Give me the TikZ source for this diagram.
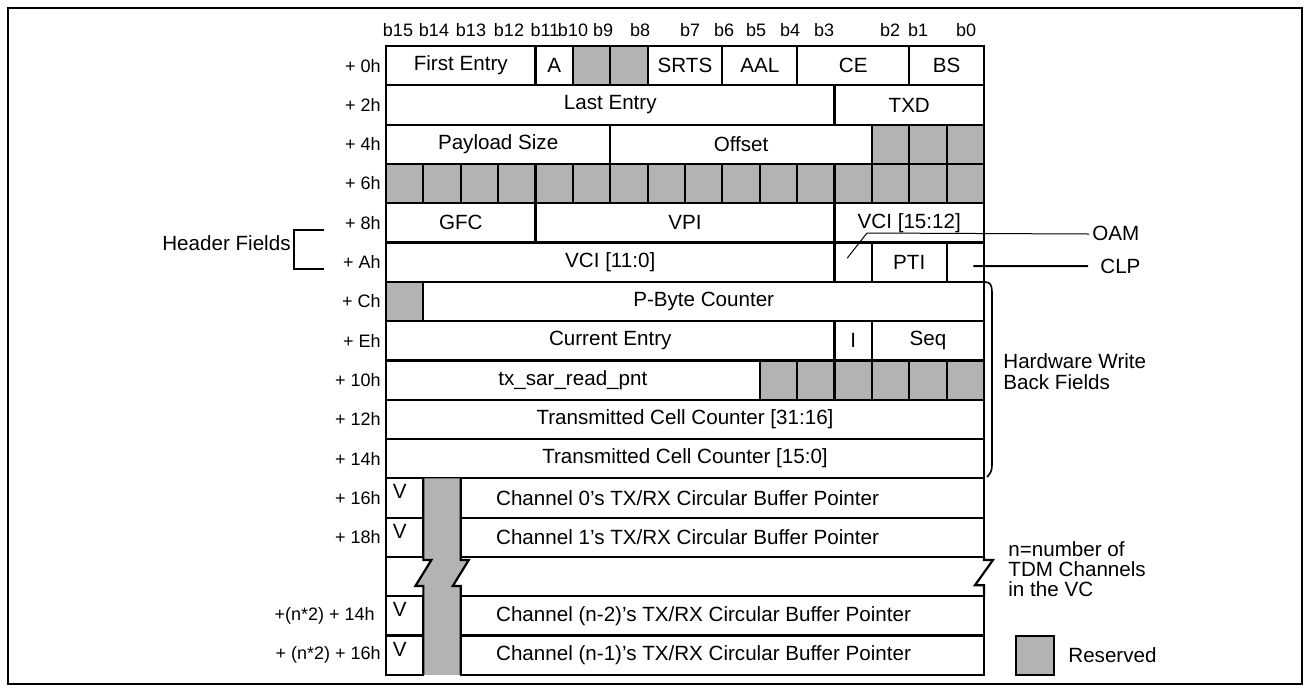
\documentclass[tikz,border=0pt]{standalone}
\usepackage{fontspec}
\setmainfont{Liberation Sans}
\usetikzlibrary{calc,positioning}
\definecolor{rsvgray}{RGB}{179,179,179}
\newcommand{\regfld}[6][]{%
  \node[field,#1,minimum width={(#3-#4+1)*18.6875pt},anchor=north west]
    (#2) at ({386+(15-#3)*37.375},{46+#5*39.3}) {#6};}
\newcommand{\vbit}{\raisebox{-1pt}{\smash{V}}\kern5pt}
\tikzset{
  field/.style={draw,line width=1.1pt,inner sep=0pt,outer sep=0pt,
    minimum height=19.65pt,font=\fontsize{10.3}{12.4}\selectfont},
  rsv/.style={fill=rsvgray},
  offs/.style={anchor=east,inner sep=0pt,font=\fontsize{9}{11}\selectfont},
  bitlbl/.style={inner sep=0pt,font=\fontsize{9}{11}\selectfont},
  chtxt/.style={anchor=west,inner sep=0pt,font=\fontsize{10.3}{12.4}\selectfont},
  note/.style={inner sep=0pt,align=left,font=\fontsize{10.3}{10.5}\selectfont},
}

\begin{document}
\begin{tikzpicture}[x=0.5pt,y=-0.5pt]
\useasboundingbox (0,0) rectangle (1310,692);
\draw[line width=1pt] (8,8) rectangle (1302,684);

% bit numbers
\foreach \b/\x in {15/398,14/434,13/471,12/509,11/545,10/573,9/603,8/640,
  7/690,6/724,5/756,4/790,3/824,2/890,1/918,0/966}
  {\node[bitlbl] (b\b) at (\x,30) {b\b};}

% offsets
\foreach \r/\t in {0/+ 0h,1/+ 2h,2/+ 4h,3/+ 6h,4/+ 8h,5/+ Ah,6/+ Ch,7/+ Eh,
  8/+ 10h,9/+ 12h,10/+ 14h,11/+ 16h,12/+ 18h}
  {\node[offs] (o\r) at (381,{65.65+\r*39.3}) {\t};}
\node[offs] (o14) at (375,615.85) {+(n*2) + 14h};
\node[offs] (o15) at (381,655.15) {+ (n*2) + 16h};

% + 0h
\regfld{fe}{15}{12}{0}{First Entry}
\regfld{a}{11}{11}{0}{A}
\regfld[rsv]{r0a}{10}{10}{0}{}
\regfld[rsv]{r0b}{9}{9}{0}{}
\regfld{srts}{8}{7}{0}{SRTS}
\regfld{aal}{6}{5}{0}{AAL}
\regfld{ce}{4}{2}{0}{CE}
\regfld{bs}{1}{0}{0}{\raisebox{-2pt}{BS}}
% + 2h
\regfld{le}{15}{4}{1}{Last Entry}
\regfld{txd}{3}{0}{1}{TXD}
% + 4h
\regfld{ps}{15}{10}{2}{Payload Size}
\regfld{ofs}{9}{3}{2}{Offset}
\foreach \k in {2,1,0} {\regfld[rsv]{r4c\k}{\k}{\k}{2}{}}
% + 6h
\foreach \k in {0,...,15} {\regfld[rsv]{r6c\k}{\k}{\k}{3}{}}
% + 8h
\regfld{gfc}{15}{12}{4}{GFC}
\regfld{vpi}{11}{4}{4}{VPI}
\regfld{vcih}{3}{0}{4}{VCI [15:12]}
% + Ah
\regfld{vcil}{15}{4}{5}{VCI [11:0]}
\regfld{oam}{3}{3}{5}{}
\regfld{pti}{2}{1}{5}{PTI}
\regfld{clp}{0}{0}{5}{}
% + Ch
\regfld[rsv]{rc}{15}{15}{6}{}
\regfld{pbc}{14}{0}{6}{P-Byte Counter}
% + Eh
\regfld{cur}{15}{4}{7}{Current Entry}
\regfld{ibit}{3}{3}{7}{I}
\regfld{seq}{2}{0}{7}{Seq}
% + 10h
\regfld{rdp}{15}{6}{8}{tx\_sar\_read\_pnt}
\foreach \k in {5,...,0} {\regfld[rsv]{r10c\k}{\k}{\k}{8}{}}
% + 12h, + 14h
\regfld{tcch}{15}{0}{9}{Transmitted Cell Counter [31:16]}
\regfld{tccl}{15}{0}{10}{Transmitted Cell Counter [15:0]}

% reserved column of the channel pointers, with break
\fill[rsvgray] (423.375,478.3) -- (423.375,560) -- (431.375,560) -- (415.375,586)
  -- (423.375,586) -- (423.375,674.8) -- (460.75,674.8) -- (460.75,586)
  -- (452.75,586) -- (468.75,560) -- (460.75,560) -- (460.75,478.3) -- cycle;
\draw[line width=1.1pt] (423.375,478.3) -- (423.375,560) -- (431.375,560)
  -- (415.375,586) -- (423.375,586) -- (423.375,674.8);
\draw[line width=1.1pt] (460.75,478.3) -- (460.75,560) -- (468.75,560)
  -- (452.75,586) -- (460.75,586) -- (460.75,674.8);

% channel pointers
\regfld{v16}{15}{15}{11}{\vbit}
\regfld{ch0}{13}{0}{11}{}
\regfld{v18}{15}{15}{12}{\vbit}
\regfld{ch1}{13}{0}{12}{}
\regfld{vn2}{15}{15}{14}{\vbit}
\regfld{chn2}{13}{0}{14}{}
\regfld{vn1}{15}{15}{15}{\vbit}
\regfld{chn1}{13}{0}{15}{}
\node[chtxt] (ch0t) at ($(ch0.west)+(35,0)$) {Channel 0's TX/RX Circular Buffer Pointer};
\node[chtxt] (ch1t) at ($(ch1.west)+(35,0)$) {Channel 1's TX/RX Circular Buffer Pointer};
\node[chtxt] (chn2t) at ($(chn2.west)+(35,0)$) {Channel (n-2)'s TX/RX Circular Buffer Pointer};
\node[chtxt] (chn1t) at ($(chn1.west)+(35,0)$) {Channel (n-1)'s TX/RX Circular Buffer Pointer};

% break of the table
\draw[line width=1.1pt] (v18.south west) -- (vn2.north west);
\draw[line width=1.1pt] (ch1.south east) -- ($(ch1.south east)+(0,3)$)
  -- ($(ch1.south east)+(9,3)$) -- ($(chn2.north east)+(-9,-11)$)
  -- ($(chn2.north east)+(0,-11)$) -- (chn2.north east);

% header fields
\node[note,anchor=east] (hdr) at (291,243) {Header Fields};
\draw[line width=1pt] (324,230) -- (294,230) -- (294,269) -- (324,269);

% OAM and CLP
\node[note,anchor=west] (oaml) at (1092,233) {OAM};
\node[note,anchor=west] (clpl) at (1100,266) {CLP};
\draw[line width=0.5pt] ($(oam.center)+(-6,-4)$) -- ($(vcih.south west)+(32.5,-9.5)$)
  -- ($(oaml.west)+(-3,1)$);
\draw[line width=1pt] ($(clp.center)+(8,4)$) -- ($(clpl.west)+(-12,0)$);

% hardware write back
\draw[line width=0.8pt] (985,282) .. controls (990,282) and (992,285) .. (992,292)
  -- (992,465) .. controls (992,471) and (990,474) .. (987,477);
\node[note,anchor=west] (hwb) at (1003,372) {Hardware Write\\Back Fields};

% number of channels
\node[note,anchor=west,font=\fontsize{10.3}{10}\selectfont] (nch) at (1008,569)
  {n=number of\\TDM Channels\\in the VC};

% legend
\node[field,rsv,minimum width=19pt,minimum height=19.5pt] (lgd) at (1035,655.5) {};
\node[note,right=7pt of lgd] (lgdt) {Reserved};
\end{tikzpicture}
\end{document}
